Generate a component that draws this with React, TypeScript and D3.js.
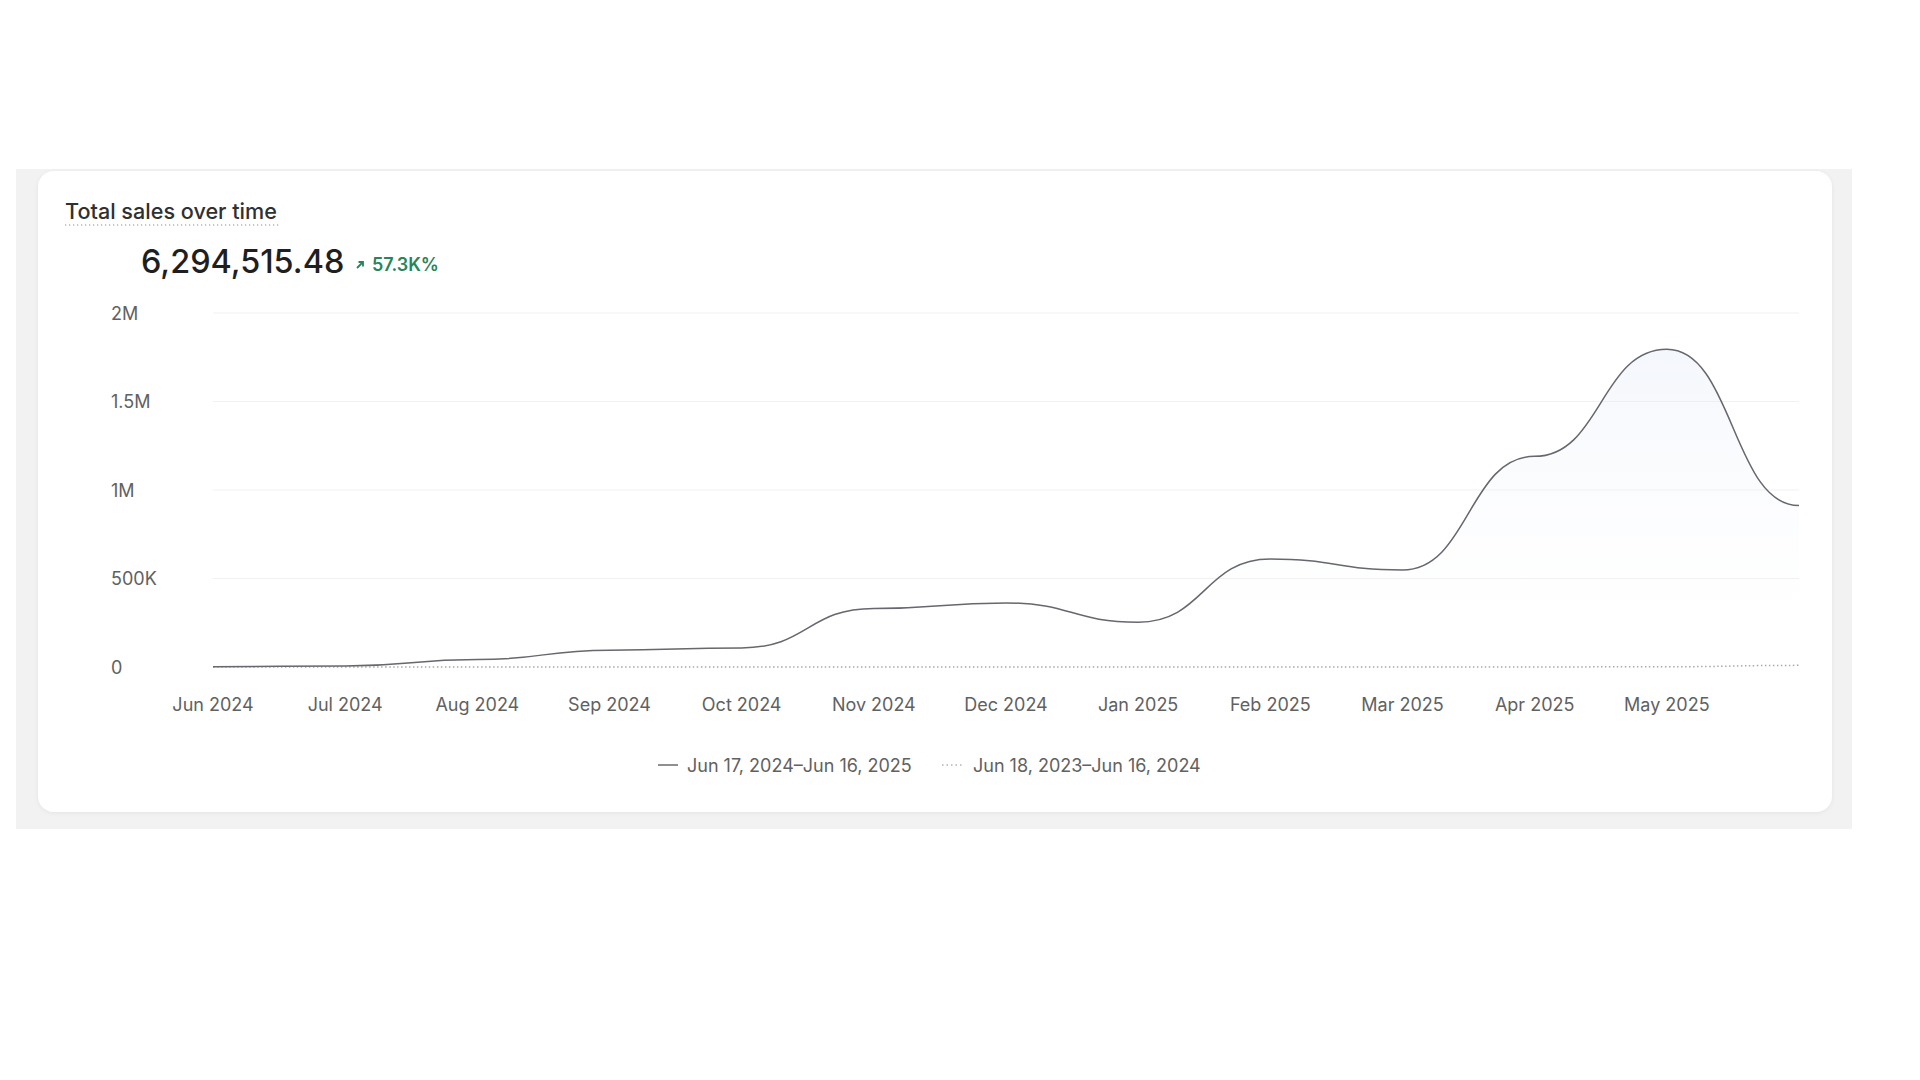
import * as d3 from "d3"

// monthly totals, Jun 2024 -> Jun 2025
const months = [
  "Jun 2024", "Jul 2024", "Aug 2024", "Sep 2024", "Oct 2024", "Nov 2024", "Dec 2024",
  "Jan 2025", "Feb 2025", "Mar 2025", "Apr 2025", "May 2025", "Jun 2025",
]
const currentSales = [2000, 6000, 42000, 95000, 108000, 331000, 362000, 253000, 610000, 548000, 1190000, 1795000, 912000]
const previousSales = [0, 0, 0, 0, 0, 0, 0, 0, 0, 0, 300, 1500, 9200]
const xTickLabels = months.slice(0, 12)
const yTicks = [0, 500000, 1000000, 1500000, 2000000]
const yTickLabels = ["0", "500K", "1M", "1.5M", "2M"]
const legendLabels = ["Jun 17, 2024–Jun 16, 2025", "Jun 18, 2023–Jun 16, 2024"]
const totalLabel = "6,294,515.48"
const changeLabel = "57.3K%"

const W = 1920
const H = 1080
const font = "Inter, 'Noto Sans', sans-serif"

export default function App() {
  const x = d3.scalePoint<string>().domain(months).range([213, 1799])
  const y = d3.scaleLinear().domain([0, 2000000]).range([667, 313])

  const line = d3
    .line<number>()
    .x((_, i) => x(months[i]) as number)
    .y((d) => y(d))
    .curve(d3.curveBumpX)

  const area = d3
    .area<number>()
    .x((_, i) => x(months[i]) as number)
    .y0(y(0))
    .y1((d) => y(d))
    .curve(d3.curveBumpX)

  const [x0, x1] = x.range()

  return (
    <div style={{ position: "absolute", left: 0, top: 0, width: W, height: H, background: "#fff" }}>
      <svg width={W} height={H} viewBox={`0 0 ${W} ${H}`} style={{ display: "block" }}>
        <defs>
          <linearGradient id="areaFill" x1="0" y1={y(2000000)} x2="0" y2={y(0)} gradientUnits="userSpaceOnUse">
            <stop offset="0" stopColor="#d9e3f4" stopOpacity={0.35} />
            <stop offset="0.6" stopColor="#e6ecf7" stopOpacity={0.1} />
            <stop offset="1" stopColor="#ffffff" stopOpacity={0} />
          </linearGradient>
          <filter id="cardShadow" x="-5%" y="-5%" width="110%" height="115%">
            <feDropShadow dx="0" dy="1" stdDeviation="2" floodColor="#000" floodOpacity="0.06" />
          </filter>
        </defs>

        {/* frame + card */}
        <rect x={16} y={169} width={1836} height={660} fill="#f2f2f2" />
        <rect x={38} y={171} width={1794} height={641} rx={16} fill="#fff" filter="url(#cardShadow)" />

        {/* header */}
        <text x={65} y={211} dominantBaseline="central" fontFamily={font} fontSize={21.6} fontWeight={500} fill="#303030">
          Total sales over time
        </text>
        <line x1={65} x2={279} y1={225} y2={225} stroke="#8a8a8a" strokeWidth={1.2} strokeDasharray="1.2 2.8" />
        <text x={141} y={261} dominantBaseline="central" fontFamily={font} fontSize={32.4} fontWeight={450} fill="#1f1f1f">
          {totalLabel}
        </text>
        <path d="M357,268 L363,262 M358.5,262 L363,262 L363,266.5" stroke="#29845a" strokeWidth={1.8} fill="none" />
        <text x={372} y={264} dominantBaseline="central" fontFamily={font} fontSize={18} fontWeight={600} fill="#29845a">
          {changeLabel}
        </text>

        {/* grid + y axis */}
        {yTicks.map((t, i) => (
          <g key={t}>
            {t > 0 && <line x1={x0} x2={x1} y1={y(t)} y2={y(t)} stroke="#f1f1f1" strokeWidth={1} />}
            <text x={111} y={y(t)} dominantBaseline="central" fontFamily={font} fontSize={18} fill="#616161">
              {yTickLabels[i]}
            </text>
          </g>
        ))}

        {/* x axis labels */}
        {xTickLabels.map((m) => (
          <text key={m} x={x(m)} y={704} textAnchor="middle" dominantBaseline="central" fontFamily={font} fontSize={18} fill="#616161">
            {m}
          </text>
        ))}

        {/* series */}
        <path d={area(currentSales) || ""} fill="url(#areaFill)" />
        <path d={line(previousSales) || ""} fill="none" stroke="#a9a9a9" strokeWidth={1.5} strokeDasharray="1.5 2.5" />
        <path d={line(currentSales) || ""} fill="none" stroke="#66676f" strokeWidth={1.5} />

        {/* legend */}
        <line x1={658} x2={678} y1={765} y2={765} stroke="#6b6b6b" strokeWidth={1.5} />
        <text x={687} y={765} dominantBaseline="central" fontFamily={font} fontSize={18} fill="#616161">
          {legendLabels[0]}
        </text>
        <line x1={942} x2={962} y1={765} y2={765} stroke="#b3b3b3" strokeWidth={1.5} strokeDasharray="1.5 3" />
        <text x={973} y={765} dominantBaseline="central" fontFamily={font} fontSize={18} fill="#616161">
          {legendLabels[1]}
        </text>
      </svg>
    </div>
  )
}
